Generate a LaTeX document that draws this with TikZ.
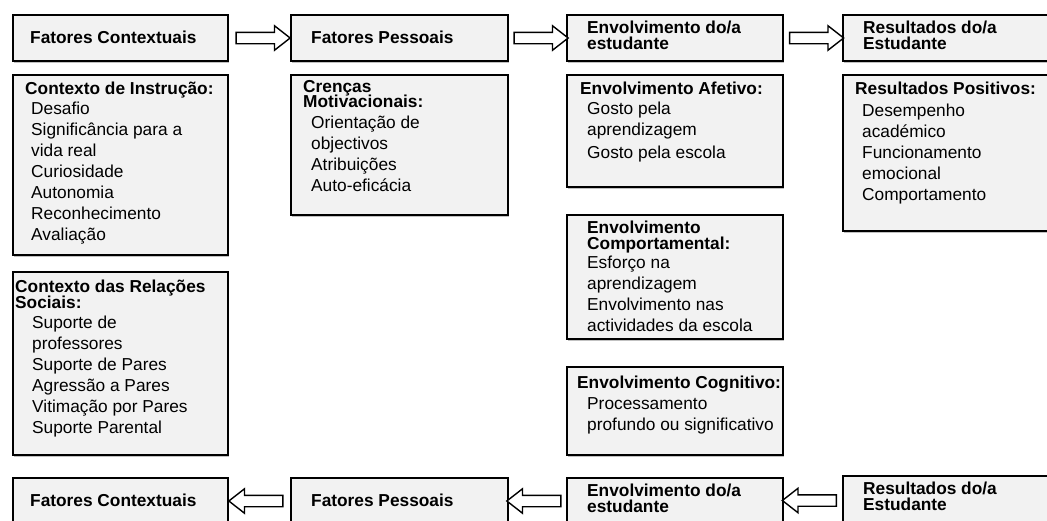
\documentclass[tikz,border=0pt]{standalone}
\usepackage{fontspec}
\setmainfont{Liberation Sans}
\usetikzlibrary{shapes.arrows,shadows}
\definecolor{boxgray}{HTML}{F2F2F2}
\newcommand{\tightlines}{\lineskiplimit=-20pt\relax}

\tikzset{
  box/.style={draw, line width=1.3pt, fill=boxgray, inner sep=0pt, outer sep=0pt, anchor=north west,
    drop shadow={shadow xshift=1.2pt, shadow yshift=-2pt, opacity=0.35, fill=black!70}},
  headtxt/.style={anchor=north west, inner sep=0pt, align=left,
    font=\fontsize{17.3}{15.5}\selectfont\bfseries\tightlines},
  itemtxt/.style={anchor=north west, inner sep=0pt, align=left,
    font=\fontsize{17.3}{21}\selectfont\tightlines},
  fatright/.style={single arrow, draw, line width=1.4pt, fill=white, inner sep=5pt,
    minimum height=54pt, single arrow head extend=6.5pt, single arrow tip angle=76},
  fatleft/.style={fatright, shape border rotate=180},
}

\begin{document}
\begin{tikzpicture}[x=1pt,y=-1pt]
  \useasboundingbox (0,0) rectangle (1047,520);
  % top row
  \node[box, minimum width=215pt, minimum height=46pt] (fc) at (13,15) {};
  \node[box, minimum width=217pt, minimum height=46pt] (fp) at (291,15) {};
  \node[box, minimum width=216pt, minimum height=46pt] (ee) at (567,15) {};
  \node[box, minimum width=217pt, minimum height=46pt] (re) at (843,15) {};
  \node[headtxt] (fct) at (30,30.5) {Fatores Contextuais};
  \node[headtxt] (fpt) at (311,30.5) {Fatores Pessoais};
  \node[headtxt] (eet) at (587,21) {Envolvimento do/a\\estudante};
  \node[headtxt] (ret) at (863,21) {Resultados do/a\\Estudante};
  \path (fc.east) -- (fp.west) node[midway, fatright] (a1) {};
  \path (fp.east) -- (ee.west) node[midway, fatright] (a2) {};
  \path (ee.east) -- (re.west) node[midway, fatright] (a3) {};

  % column 1
  \node[box, minimum width=215pt, minimum height=180pt] (ctxinst) at (13,75) {};
  \node[headtxt] (ctxinsth) at (25,81.5) {Contexto de Instrução:};
  \node[itemtxt] (ctxinsti) at (31,101.5) {Desafio\\Significância para a\\vida real\\Curiosidade\\Autonomia\\Reconhecimento\\Avaliação};
  \node[box, minimum width=215pt, minimum height=183pt] (ctxsoc) at (13,272) {};
  \node[headtxt] (ctxsoch) at (15,280) {Contexto das Relações\\Sociais:};
  \node[itemtxt] (ctxsoci) at (32,315.5) {Suporte de\\professores\\Suporte de Pares\\Agressão a Pares\\Vitimação por Pares\\Suporte Parental};

  % column 2
  \node[box, minimum width=217pt, minimum height=140pt] (crencas) at (291,75) {};
  \node[headtxt] (crencash) at (303,80) {Crenças\\Motivacionais:};
  \node[itemtxt] (crencasi) at (311,115.5) {Orientação de\\objectivos\\Atribuições\\Auto-eficácia};

  % column 3
  \node[box, minimum width=216pt, minimum height=112pt] (envafet) at (567,75) {};
  \node[headtxt] (envafeth) at (580,81.5) {Envolvimento Afetivo:};
  \node[itemtxt] (envafeti) at (587,101.5) {Gosto pela\\aprendizagem\\[2pt]Gosto pela escola};
  \node[box, minimum width=216pt, minimum height=124pt] (envcomp) at (567,215) {};
  \node[headtxt] (envcomph) at (587,221) {Envolvimento\\Comportamental:};
  \node[itemtxt] (envcompi) at (587,255.5) {Esforço na\\aprendizagem\\Envolvimento nas\\actividades da escola};
  \node[box, minimum width=216pt, minimum height=88pt] (envcog) at (567,367) {};
  \node[headtxt] (envcogh) at (577,375.5) {Envolvimento Cognitivo:};
  \node[itemtxt] (envcogi) at (587,397.5) {Processamento\\profundo ou significativo};

  % column 4
  \node[box, minimum width=217pt, minimum height=156pt] (respos) at (843,75) {};
  \node[headtxt] (resposh) at (855,81.5) {Resultados Positivos:};
  \node[itemtxt] (resposi) at (862,103.5) {Desempenho\\académico\\Funcionamento\\emocional\\Comportamento};

  % bottom row, arrows back
  \node[box, minimum width=215pt, minimum height=46pt] (fcb) at (13,478) {};
  \node[box, minimum width=217pt, minimum height=46pt] (fpb) at (291,478) {};
  \node[box, minimum width=216pt, minimum height=46pt] (eeb) at (567,478) {};
  \node[box, minimum width=217pt, minimum height=48pt] (reb) at (843,476) {};
  \node[headtxt] (fcbt) at (30,493.5) {Fatores Contextuais};
  \node[headtxt] (fpbt) at (311,493.5) {Fatores Pessoais};
  \node[headtxt] (eebt) at (587,484) {Envolvimento do/a\\estudante};
  \node[headtxt] (rebt) at (863,482) {Resultados do/a\\Estudante};
  \path (fpb.west) -- (fcb.east) node[midway, fatleft] (b1) {};
  \path (eeb.west) -- (fpb.east) node[midway, fatleft] (b2) {};
  \path (reb.west) -- (eeb.east) node[midway, fatleft] (b3) {};
\end{tikzpicture}
\end{document}
